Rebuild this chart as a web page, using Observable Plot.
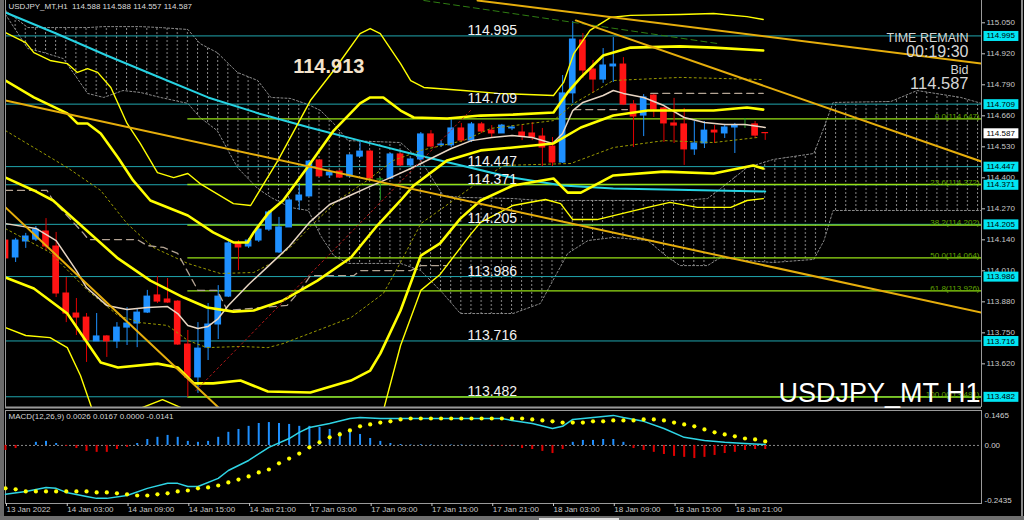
<!DOCTYPE html>
<html><head><meta charset="utf-8">
<script src="https://cdn.jsdelivr.net/npm/d3@7"></script>
<script src="https://cdn.jsdelivr.net/npm/@observablehq/plot@0.6"></script>
<style>
html,body{margin:0;padding:0;background:#000;}
body{width:1024px;height:520px;overflow:hidden;position:relative;font-family:"Liberation Sans",Arial,sans-serif;}
#main,#macd{display:block;line-height:0}
#foot{position:absolute;left:0;top:516px;width:1024px;height:4px;background:#6f6f6f}
#foot div{position:absolute;left:539px;top:2px;width:80px;height:2px;background:#e0e0e0}
#lborder{position:absolute;left:0;top:0;width:4px;height:516px;background:#6a6a6a}
#rborder{position:absolute;left:1021px;top:0;width:2px;height:516px;background:#8a8a8a}
</style></head><body>
<div id="main"></div><div id="macd"></div><div id="foot"><div></div></div>
<div id="lborder"></div><div id="rborder"></div>
<script>
// ---------- DATA ----------
const headerText = "USDJPY_MT,H1  114.588 114.588 114.557 114.587";
const macdText = "MACD(12,26,9) 0.0026 0.0167 0.0000 -0.0141";
const chartName = "USDJPY_MT H1";
const infoTexts = ["TIME REMAIN", "00:19:30", "Bid", "114.587"];
const lastBid = 114.587;
const peakLabel = {label: "114.913", bar: 28.4, price: 114.913};

const timeTickBars = [0, 6, 12, 18, 24, 30, 36, 42, 48, 54, 60, 66, 72];
const timeLabels = ["13 Jan 2022", "14 Jan 03:00", "14 Jan 09:00", "14 Jan 15:00", "14 Jan 21:00",
  "17 Jan 03:00", "17 Jan 09:00", "17 Jan 15:00", "17 Jan 21:00", "18 Jan 03:00", "18 Jan 09:00",
  "18 Jan 15:00", "18 Jan 21:00"];
const priceTicks = [115.050, 114.920, 114.790, 114.660, 114.530, 114.400, 114.270, 114.140, 114.010, 113.880, 113.750, 113.620];
const macdScale = {top: 0.1465, zero: 0.00, bottom: -0.2435};

const levelPrices = [114.995, 114.709, 114.447, 114.371, 114.205, 113.986, 113.716, 113.482];
const fibPrices = [114.647, 114.372, 114.202, 114.064, 113.926, 113.481];
const fibLabels = ["0.0(114.647)", "23.6(114.372)", "38.2(114.202)", "50.0(114.064)", "61.8(113.926)", "100.0(113.481)"];
const fibStartBar = 18;
const levelLabelBar = 45.6;

const candleOpen = [114.137,114.066,114.133,114.141,114.175,114.112,113.915,113.831,113.814,113.714,
  113.735,113.714,113.772,113.789,113.835,113.907,113.890,113.881,113.701,113.563,
  113.688,113.785,113.902,114.125,114.112,114.137,114.183,114.087,114.192,114.305,
  114.322,114.473,114.410,114.426,114.406,114.489,114.510,114.393,114.397,114.498,
  114.452,114.477,114.582,114.536,114.536,114.607,114.556,114.624,114.598,114.586,
  114.607,114.590,114.586,114.573,114.531,114.464,114.754,114.976,114.854,114.812,
  114.867,114.875,114.707,114.661,114.745,114.691,114.628,114.624,114.519,114.544,
  114.598,114.586,114.611,114.621,114.624,114.588];
const candleHigh = [114.146,114.146,114.167,114.196,114.229,114.171,113.982,113.894,113.831,113.831,
  113.739,113.793,113.856,113.852,113.928,113.986,113.978,113.885,113.760,113.793,
  113.873,113.948,114.137,114.137,114.146,114.196,114.263,114.234,114.313,114.376,
  114.473,114.477,114.431,114.431,114.498,114.548,114.515,114.401,114.502,114.502,
  114.481,114.590,114.598,114.556,114.649,114.628,114.632,114.632,114.619,114.624,
  114.619,114.619,114.632,114.607,114.569,114.829,115.055,115.005,114.892,114.942,
  114.988,114.904,114.724,114.749,114.749,114.695,114.733,114.691,114.636,114.636,
  114.619,114.624,114.628,114.649,114.636,114.588];
const candleLow = [114.045,114.045,114.104,114.133,114.095,113.898,113.793,113.739,113.626,113.714,
  113.647,113.684,113.697,113.688,113.831,113.873,113.873,113.697,113.479,113.496,
  113.634,113.722,113.898,114.011,114.104,114.129,114.175,114.083,114.192,114.263,
  114.322,114.401,114.397,114.397,114.401,114.485,114.393,114.305,114.393,114.447,
  114.447,114.473,114.527,114.527,114.527,114.548,114.548,114.586,114.569,114.586,
  114.598,114.556,114.556,114.447,114.447,114.460,114.712,114.816,114.754,114.796,
  114.800,114.703,114.527,114.573,114.653,114.548,114.544,114.452,114.494,114.523,
  114.544,114.565,114.502,114.607,114.565,114.557];
const candleClose = [114.062,114.137,114.154,114.183,114.112,113.915,113.831,113.814,113.718,113.735,
  113.714,113.772,113.789,113.835,113.902,113.881,113.877,113.701,113.563,113.684,
  113.785,113.902,114.125,114.108,114.137,114.183,114.255,114.192,114.305,114.326,
  114.468,114.406,114.422,114.401,114.494,114.510,114.397,114.393,114.498,114.452,
  114.477,114.582,114.531,114.540,114.607,114.556,114.624,114.594,114.586,114.619,
  114.611,114.573,114.569,114.527,114.464,114.754,114.980,114.850,114.812,114.871,
  114.875,114.707,114.657,114.737,114.686,114.628,114.619,114.519,114.544,114.598,
  114.590,114.611,114.619,114.621,114.577,114.587];

// indicator lines: [bar, price]
const bbUpper3 = [[0,115.009],[2.0,114.967],[2.8,114.925],[4.4,114.892],[6.1,114.879],[7.1,114.842],[8.1,114.858],[9.1,114.842],[10.4,114.779],[12.0,114.628],[13.3,114.544],[15.0,114.422],[16.6,114.401],[18.0,114.418],[19.2,114.376],[22.5,114.292],[24.2,114.284],[26.9,114.473],[30.1,114.724],[32.4,114.850],[35.0,115.005],[36.0,115.026],[37.0,115.005],[39.0,114.879],[40.0,114.808],[41.3,114.779],[45.2,114.766],[48.6,114.754],[54.1,114.745],[55.1,114.800],[56.1,114.921],[57.7,115.018],[59.7,115.072],[61.7,115.081],[66.6,115.085],[69.9,115.089],[73.2,115.076],[74.8,115.064]];
const bbUpper2 = [[0,114.808],[2.8,114.737],[6.1,114.670],[7.1,114.628],[8.1,114.628],[9.4,114.586],[11.1,114.485],[12.6,114.389],[14.3,114.305],[18.0,114.242],[20.5,114.171],[22.5,114.129],[23.9,114.129],[24.5,114.171],[25.9,114.250],[27.4,114.305],[29.8,114.443],[32.4,114.598],[35.0,114.712],[36.0,114.737],[37.3,114.737],[39.0,114.682],[40.3,114.653],[43.6,114.649],[46.9,114.661],[50.1,114.665],[54.1,114.674],[55.5,114.758],[56.8,114.821],[59.0,114.913],[61.7,114.946],[66.6,114.951],[69.9,114.946],[74.8,114.934]];
const bbMiddle = [[0,114.401],[2.8,114.347],[4.7,114.305],[11.1,114.062],[14.3,113.969],[17.6,113.898],[19.9,113.856],[22.5,113.839],[24.5,113.844],[27.4,113.886],[30.8,113.969],[34.1,114.066],[36.7,114.200],[39.0,114.305],[40.3,114.368],[43.6,114.473],[46.9,114.515],[50.1,114.527],[54.1,114.544],[56.8,114.611],[60.0,114.661],[63.4,114.682],[69.9,114.682],[73.2,114.695],[74.8,114.686]];
const bbLower2 = [[0,113.982],[2.8,113.936],[6.1,113.831],[9.4,113.626],[11.1,113.605],[15.0,113.621],[17.0,113.605],[18.6,113.538],[20.5,113.538],[23.2,113.550],[25.9,113.504],[30.1,113.500],[34.1,113.550],[36.0,113.592],[37.0,113.663],[39.0,113.844],[41.0,114.074],[42.9,114.125],[44.9,114.229],[46.9,114.305],[50.1,114.368],[54.1,114.397],[55.5,114.338],[56.8,114.338],[60.0,114.410],[65.0,114.426],[69.9,114.418],[73.8,114.452],[74.8,114.439]];
const bbLower3 = [[0,113.772],[2.0,113.739],[4.4,113.730],[6.1,113.688],[7.4,113.571],[8.6,113.424],[10.5,113.340],[12.5,113.420],[15.5,113.470],[18.0,113.424],[20.0,113.340],[23.0,113.386],[28.0,113.250],[33.0,113.150],[36.5,113.340],[37.3,113.424],[39.0,113.697],[41.0,113.928],[42.9,113.995],[45.9,114.162],[46.9,114.213],[50.1,114.284],[53.3,114.309],[54.8,114.292],[56.0,114.225],[58.4,114.225],[63.4,114.276],[65.6,114.297],[68.3,114.276],[71.6,114.276],[73.2,114.305],[74.8,114.313]];
const bbUpper1 = [[0,114.598],[6.1,114.443],[9.4,114.347],[12.0,114.208],[14.6,114.108],[18.0,114.041],[21.2,113.999],[24.5,114.003],[26.2,114.041],[28.1,114.108],[30.4,114.208],[32.8,114.305],[35.7,114.389],[38.3,114.473],[41.0,114.515],[45.2,114.556],[47.9,114.607],[54.1,114.640],[56.1,114.712],[60.0,114.808],[66.6,114.821],[74.8,114.812]];
const bbLower1 = [[0,114.187],[4.4,114.087],[8.1,113.928],[11.1,113.823],[13.3,113.793],[16.0,113.781],[18.0,113.718],[19.9,113.688],[23.2,113.693],[25.9,113.688],[27.4,113.705],[30.8,113.760],[34.1,113.814],[37.3,113.915],[39.0,114.045],[41.0,114.208],[44.2,114.305],[46.9,114.389],[49.2,114.452],[55.8,114.460],[60.0,114.527],[65.0,114.556],[69.9,114.548],[74.2,114.569]];
const cyanMA = [[0,115.093],[5,115.005],[10,114.913],[15,114.825],[20,114.737],[25,114.670],[30,114.611],[35,114.556],[40,114.502],[45,114.452],[50,114.401],[55,114.368],[60,114.355],[65,114.351],[70,114.347],[75,114.343]];
const beigeMA = [[0,114.208],[3,114.188],[5,114.137],[7,114.011],[8,113.940],[10,113.865],[12,113.848],[14,113.856],[16,113.860],[17,113.831],[18,113.781],[19,113.768],[20,113.777],[21,113.810],[22,113.865],[24,113.953],[26,114.032],[28,114.112],[30,114.213],[32,114.288],[34,114.326],[36,114.364],[38,114.401],[40,114.439],[42,114.481],[44,114.523],[46,114.556],[48,114.569],[50,114.577],[52,114.569],[54,114.544],[55,114.586],[56,114.682],[57,114.716],[59,114.745],[60,114.766],[61,114.754],[63,114.737],[65,114.703],[67,114.653],[69,114.632],[71,114.624],[73,114.624],[75,114.611]];
const kijunLine = [[0,114.347],[4.1,114.347],[4.7,114.305],[7.7,114.167],[8.2,114.141],[13.0,114.141],[14.0,114.116],[15.6,114.108],[17.0,114.083],[19.0,113.928],[20.9,113.928],[21.9,113.844],[27.8,113.865],[29.1,113.928],[30.1,113.990],[34.4,113.990],[35.0,114.011],[40.0,114.011],[41.0,114.032],[43.6,114.032],[50,NaN],[56.1,114.686],[61.4,114.686],[62.5,NaN],[63.7,114.754],[74.8,114.754]];
const cloudBar = [0,2.2,3.8,5.7,7.1,8.1,9.7,11.6,13.3,15.3,18.0,19.2,20.9,22.9,24.9,26.2,28.1,29.9,31.1,32.4,33.8,39.0,41.0,43.2,44.9,50.1,52.8,55.5,57.5,60.0,63.4,65.4,66.6,69.3,70.6,73.2,75.8,79.8,80.8,81.7,87.4,90.0,94.3,96.35];
const cloudTop = [115.102,115.030,115.030,115.030,115.030,115.030,115.034,115.034,115.034,115.030,115.022,114.963,114.925,114.842,114.808,114.737,114.733,114.707,114.682,114.628,114.556,114.548,114.473,114.326,114.318,114.313,114.305,114.305,114.305,114.305,114.305,114.305,114.305,114.313,114.355,114.443,114.477,114.502,114.611,114.716,114.720,114.766,114.737,114.712];
const cloudBottom = [115.085,114.942,114.925,114.900,114.816,114.754,114.737,114.766,114.758,114.737,114.712,114.653,114.598,114.443,114.355,114.318,114.276,114.263,114.158,114.074,114.041,114.041,114.011,113.915,113.831,113.831,113.873,114.083,114.137,114.150,114.137,114.066,114.032,114.032,114.066,114.053,114.045,114.058,114.137,114.263,114.263,114.263,114.263,114.263];

const trendA = [[46.6,115.1435],[96.35,114.879]];
const trendB = [[56.3,115.060],[96.35,114.468]];
const trendC = [[0,114.724],[96.35,113.835]];
const trendD = [[0,114.276],[21.7,113.410]];
const redTrend = [[18.8,113.508],[45.9,114.682]];
const greenTrend = [[41.3,115.1435],[70.3,114.963]];

// MACD panel
const macdLine = [[0,-0.205],[2,-0.193],[4,-0.176],[5,-0.180],[6,-0.197],[8,-0.214],[9,-0.222],[10,-0.222],[12,-0.210],[14,-0.180],[16,-0.159],[17,-0.159],[18,-0.172],[19,-0.172],[21,-0.138],[22,-0.105],[24,-0.063],[26,-0.008],[28,0.029],[29,0.055],[30,0.075],[32,0.092],[34,0.113],[35,0.117],[37,0.113],[42,0.113],[49,0.113],[50,0.105],[52,0.092],[54,0.071],[55,0.080],[56,0.109],[58,0.117],[60,0.126],[61,0.117],[63,0.101],[65,0.071],[67,0.034],[69,0.021],[71,0.013],[73,0.008],[75,0.004]];
const macdSignal = [-0.180,-0.184,-0.193,-0.193,-0.193,-0.193,-0.193,-0.193,-0.193,-0.197,
  -0.197,-0.201,-0.205,-0.210,-0.210,-0.205,-0.201,-0.193,-0.189,-0.180,
  -0.176,-0.168,-0.155,-0.143,-0.130,-0.113,-0.101,-0.075,-0.055,-0.034,
  -0.008,0.013,0.034,0.046,0.063,0.080,0.088,0.096,0.101,0.109,
  0.113,0.113,0.113,0.113,0.113,0.113,0.113,0.113,0.113,0.113,
  0.113,0.113,0.109,0.105,0.101,0.096,0.096,0.096,0.101,0.101,
  0.105,0.105,0.105,0.109,0.109,0.105,0.096,0.088,0.080,0.067,
  0.055,0.046,0.038,0.029,0.025,0.017];
const macdHist = [-0.021,-0.013,0,0.013,0.017,0.008,-0.004,-0.013,-0.025,-0.029,
  -0.029,-0.017,-0.008,0.008,0.025,0.034,0.042,0.034,0.017,0.013,
  0.017,0.034,0.055,0.067,0.080,0.092,0.096,0.092,0.088,0.080,
  0.080,0.075,0.067,0.055,0.063,0.046,0.029,0.017,0.008,0.004,
  0.002,0.003,0.002,0.001,0.002,0.002,0.001,0.001,-0.002,-0.003,
  -0.002,-0.013,-0.017,-0.025,-0.034,-0.017,0.013,0.021,0.021,0.025,
  0.025,0.013,-0.013,-0.021,-0.029,-0.038,-0.046,-0.050,-0.055,-0.050,
  -0.042,-0.034,-0.029,-0.021,-0.017,-0.017];

// ---------- CHART ----------
const xDomain = [0, 96.35];
const yDomain = [113.437, 115.1435];
const fmt3 = d3.format(".3f");
const candles = candleOpen.map((o, i) => ({i, o, h: candleHigh[i], l: candleLow[i], c: candleClose[i]}));
const bodyColor = d => d.c > d.o ? "#1e90ff" : d.c < d.o ? "#ff1414" : "#25b825";
const wickColor = d => d.c > d.o ? "#1e90ff" : d.c < d.o ? "#e00000" : "#25a025";
const P = arr => arr.map(([i, p]) => ({i, p}));
const lineOf = (arr, opts) => Plot.line(P(arr), {x: "i", y: "p", clip: true, ...opts});
const cloud = cloudBar.map((b, k) => ({i: b, top: cloudTop[k], bot: cloudBottom[k]}));
const fibs = fibPrices.map((p, k) => ({p, label: fibLabels[k]}));
const YEL = "#ffff00";
const GOLD = "#e6ae0c";

const main = Plot.plot({
  width: 1024, height: 410,
  marginLeft: 5, marginRight: 43, marginTop: 0, marginBottom: 3,
  x: {domain: xDomain, axis: null},
  y: {domain: yDomain},
  color: {type: "identity"},
  style: {background: "#000", color: "#c8c8c8", fontFamily: "Liberation Sans, Arial, sans-serif", overflow: "visible"},
  marks: [
    Plot.areaY(cloud, {x: "i", y1: "top", y2: "bot", fill: "url(#hatch)", clip: true}),
    Plot.line(cloud, {x: "i", y: "top", stroke: "#8a8a8a", strokeDasharray: "2,2", strokeWidth: 1, clip: true}),
    Plot.line(cloud, {x: "i", y: "bot", stroke: "#8a8a8a", strokeDasharray: "2,2", strokeWidth: 1, clip: true}),
    Plot.ruleY(levelPrices, {y: d => d, stroke: "#20a6ae", strokeWidth: 1}),
    Plot.ruleY(fibs, {y: "p", x1: () => fibStartBar, x2: () => xDomain[1], stroke: "#96e016", strokeWidth: 1.3}),
    Plot.ruleX(candles, {x: "i", y1: "l", y2: "h", stroke: wickColor, strokeWidth: 1, clip: true}),
    Plot.rect(candles, {x1: d => d.i - 0.33, x2: d => d.i + 0.33, y1: "o", y2: "c", fill: bodyColor, insetTop: -0.5, insetBottom: -0.5, clip: true}),
    lineOf(bbUpper1, {stroke: "#9a9a00", strokeDasharray: "2,3", strokeWidth: 1}),
    lineOf(bbLower1, {stroke: "#9a9a00", strokeDasharray: "2,3", strokeWidth: 1}),
    lineOf(kijunLine, {stroke: "#b4a494", strokeDasharray: "7,5", strokeWidth: 1.3}),
    lineOf(cyanMA, {stroke: "#27d3e3", strokeWidth: 2}),
    lineOf(beigeMA, {stroke: "#e8d6c4", strokeWidth: 1.5}),
    lineOf(bbUpper3, {stroke: YEL, strokeWidth: 1.4}),
    lineOf(bbUpper2, {stroke: YEL, strokeWidth: 2.6}),
    lineOf(bbMiddle, {stroke: YEL, strokeWidth: 2.6}),
    lineOf(bbLower2, {stroke: YEL, strokeWidth: 2.6}),
    lineOf(bbLower3, {stroke: YEL, strokeWidth: 1.4}),
    lineOf(redTrend, {stroke: "#b01818", strokeDasharray: "2,3", strokeWidth: 1}),
    lineOf(greenTrend, {stroke: "#2f7d12", strokeDasharray: "6,4", strokeWidth: 1}),
    lineOf(trendA, {stroke: GOLD, strokeWidth: 2}),
    lineOf(trendB, {stroke: GOLD, strokeWidth: 2}),
    lineOf(trendC, {stroke: GOLD, strokeWidth: 2}),
    lineOf(trendD, {stroke: GOLD, strokeWidth: 2}),
    Plot.ruleX([xDomain[0], xDomain[1]], {x: d => d, stroke: "#9a9a9a"}),
    Plot.ruleY([yDomain[0]], {y: d => d, stroke: "#9a9a9a", strokeWidth: 2}),
    Plot.axisY(priceTicks, {anchor: "right", tickSize: 3, tickPadding: 2, tickFormat: fmt3, fontSize: 8, label: null}),
    Plot.text(levelPrices, {x: () => levelLabelBar, y: d => d, text: d => fmt3(d), textAnchor: "start", lineAnchor: "bottom", dy: -1, fill: "#f2f2f2", fontSize: 14}),
    Plot.text(fibs, {x: () => xDomain[1], y: "p", text: "label", textAnchor: "end", lineAnchor: "bottom", dx: -2, dy: 0, fill: "#62a800", fontSize: 8}),
    Plot.text(levelPrices, {x: () => xDomain[1], y: d => d, text: d => fmt3(d), textAnchor: "start", dx: 5, fill: "#010101", fontSize: 8}),
    Plot.text([lastBid], {x: () => xDomain[1], y: d => d, text: d => fmt3(d), textAnchor: "start", dx: 5, fill: "#020202", fontSize: 8}),
    Plot.text([peakLabel], {x: "bar", y: "price", text: "label", textAnchor: "start", lineAnchor: "top", dy: 3, fill: "#f3e3cc", fontSize: 20, fontWeight: "bold"}),
    Plot.text([headerText], {text: d => d, frameAnchor: "top-left", textAnchor: "start", lineAnchor: "top", dx: 3, dy: 3, fill: "#dcdcdc", fontSize: 8}),
    Plot.text([infoTexts[0]], {text: d => d, frameAnchor: "top-right", textAnchor: "end", lineAnchor: "top", dx: -13, dy: 33, fill: "#d6d6d6", fontSize: 12.5}),
    Plot.text([infoTexts[1]], {text: d => d, frameAnchor: "top-right", textAnchor: "end", lineAnchor: "top", dx: -13, dy: 45, fill: "#d6d6d6", fontSize: 16}),
    Plot.text([infoTexts[2]], {text: d => d, frameAnchor: "top-right", textAnchor: "end", lineAnchor: "top", dx: -13, dy: 65, fill: "#d6d6d6", fontSize: 12.5}),
    Plot.text([infoTexts[3]], {text: d => d, frameAnchor: "top-right", textAnchor: "end", lineAnchor: "top", dx: -13, dy: 77, fill: "#d6d6d6", fontSize: 16.5}),
    Plot.text([chartName], {text: d => d, frameAnchor: "top-right", textAnchor: "end", lineAnchor: "top", dx: -1, dy: 382, fill: "#ffffff", fontSize: 27})
  ]
});
document.getElementById("main").appendChild(main);

// hatch pattern for the Ichimoku cloud, aligned to bar spacing; boxes behind right-axis price tags
(function () {
  const ns = "http://www.w3.org/2000/svg";
  const xs = main.scale("x");
  const x0 = xs.apply(0), step = xs.apply(1) - xs.apply(0);
  const defs = document.createElementNS(ns, "defs");
  defs.innerHTML = `<pattern id="hatch" patternUnits="userSpaceOnUse" x="${x0 - 0.5}" y="0" width="${step}" height="4"><line x1="0.5" y1="0" x2="0.5" y2="2" stroke="#8a8a8a" stroke-width="1"/></pattern>`;
  main.insertBefore(defs, main.firstChild);
  function boxes(fillAttr, bg) {
    main.querySelectorAll(`g[fill="${fillAttr}"] text`).forEach(t => {
      const b = t.getBBox();
      const r = document.createElementNS(ns, "rect");
      r.setAttribute("x", b.x - 3); r.setAttribute("y", b.y - 0.5);
      r.setAttribute("width", b.width + 6); r.setAttribute("height", b.height + 1);
      r.setAttribute("fill", bg);
      if (t.getAttribute("transform")) r.setAttribute("transform", t.getAttribute("transform"));
      t.parentNode.insertBefore(r, t);
    });
  }
  boxes("#010101", "#00e4f2");
  boxes("#020202", "#ffffff");
})();

const macd = Plot.plot({
  width: 1024, height: 106,
  marginLeft: 5, marginRight: 43, marginTop: 0, marginBottom: 13,
  x: {domain: xDomain},
  y: {domain: [macdScale.bottom, macdScale.top], axis: null},
  color: {type: "identity"},
  style: {background: "#000", color: "#c8c8c8", fontFamily: "Liberation Sans, Arial, sans-serif", overflow: "visible"},
  marks: [
    Plot.frame({stroke: "#9a9a9a"}),
    Plot.ruleY([macdScale.zero], {y: d => d, stroke: "#8a8a8a", strokeDasharray: "2,2"}),
    Plot.ruleX(macdHist, {x: (d, i) => i, y1: () => 0, y2: d => d, stroke: d => d >= 0 ? "#1e8fff" : "#e00000", strokeWidth: 2}),
    Plot.line(P(macdLine), {x: "i", y: "p", stroke: "#2fd5e5", strokeWidth: 1.5}),
    Plot.dot(macdSignal, {x: (d, i) => i, y: d => d, r: 2.1, fill: "#ffff00", stroke: null}),
    Plot.text([macdText], {text: d => d, frameAnchor: "top-left", textAnchor: "start", lineAnchor: "top", dx: 3, dy: 3, fill: "#d6d6d6", fontSize: 8}),
    Plot.text([macdScale.top], {text: d => String(d), frameAnchor: "top-right", textAnchor: "start", lineAnchor: "top", dx: 3, dy: 2, fill: "#d0d0d0", fontSize: 8}),
    Plot.text([macdScale.zero], {x: () => xDomain[1], y: d => d, text: () => "0.00", textAnchor: "start", dx: 3, fill: "#d0d0d0", fontSize: 8}),
    Plot.text([macdScale.bottom], {text: d => String(d), frameAnchor: "bottom-right", textAnchor: "start", lineAnchor: "bottom", dx: 3, dy: -1, fill: "#d0d0d0", fontSize: 8}),
    Plot.axisX(timeTickBars, {anchor: "bottom", tickSize: 3, tickPadding: 0, tickFormat: d => timeLabels[timeTickBars.indexOf(d)], textAnchor: "start", dx: 1, fontSize: 8, label: null})
  ]
});
document.getElementById("macd").appendChild(macd);
</script>
</body></html>
